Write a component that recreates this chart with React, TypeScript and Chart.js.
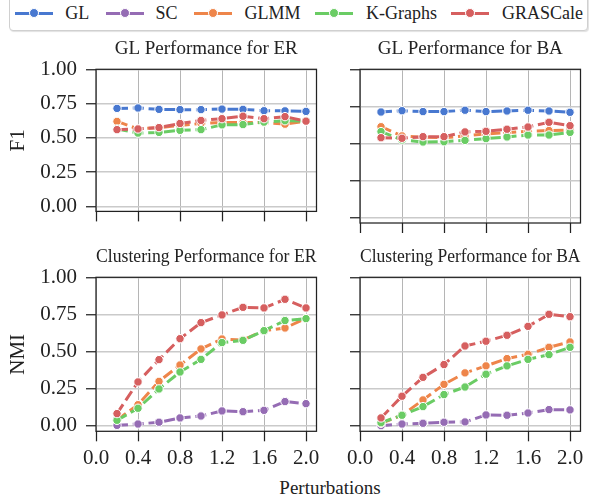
import React, { useEffect, useRef } from "react";
import { Chart, registerables } from "chart.js";

Chart.register(...registerables);
Chart.defaults.font.family = "'Liberation Serif', 'Times New Roman', Times, serif";
Chart.defaults.color = "#222";

// ---------- data ----------
const X_VALUES = [0.2, 0.4, 0.6, 0.8, 1.0, 1.2, 1.4, 1.6, 1.8, 2.0];
const X_TICKS = [0, 0.4, 0.8, 1.2, 1.6, 2.0];
const Y_TICKS = [0, 0.25, 0.5, 0.75, 1.0];

const METHODS = ["GL", "SC", "GLMM", "K-Graphs", "GRASCale"];
const COLORS = ["#4878d0", "#956cb4", "#ee854a", "#6acc64", "#d65f5f"];

// F1 – ER
const F1_ER_GL = [0.715, 0.718, 0.708, 0.706, 0.706, 0.71, 0.708, 0.698, 0.697, 0.693];
const F1_ER_GLMM = [0.62, 0.565, 0.575, 0.59, 0.605, 0.612, 0.612, 0.612, 0.6, 0.622];
const F1_ER_KG = [0.565, 0.535, 0.54, 0.555, 0.56, 0.595, 0.597, 0.615, 0.625, 0.622];
const F1_ER_GRAS = [0.56, 0.565, 0.575, 0.605, 0.627, 0.64, 0.658, 0.64, 0.655, 0.622];

// F1 – BA
const F1_BA_GL = [0.712, 0.721, 0.715, 0.715, 0.724, 0.715, 0.719, 0.724, 0.719, 0.71];
const F1_BA_GLMM = [0.613, 0.551, 0.542, 0.539, 0.551, 0.564, 0.573, 0.582, 0.587, 0.59];
const F1_BA_KG = [0.58, 0.524, 0.51, 0.512, 0.521, 0.533, 0.544, 0.557, 0.557, 0.575];
const F1_BA_GRAS = [0.539, 0.535, 0.546, 0.546, 0.578, 0.582, 0.596, 0.611, 0.643, 0.62];

// NMI – ER
const NMI_ER_SC = [0.004, 0.013, 0.025, 0.054, 0.067, 0.101, 0.096, 0.105, 0.164, 0.15];
const NMI_ER_GLMM = [0.04, 0.143, 0.3, 0.41, 0.518, 0.585, 0.578, 0.641, 0.659, 0.724];
const NMI_ER_KG = [0.038, 0.119, 0.249, 0.363, 0.448, 0.561, 0.576, 0.641, 0.709, 0.722];
const NMI_ER_GRAS = [0.083, 0.296, 0.446, 0.587, 0.695, 0.747, 0.798, 0.794, 0.852, 0.794];

// NMI – BA
const NMI_BA_SC = [0.002, 0.013, 0.018, 0.025, 0.027, 0.074, 0.072, 0.087, 0.11, 0.108];
const NMI_BA_GLMM = [0.018, 0.072, 0.175, 0.28, 0.357, 0.404, 0.453, 0.482, 0.529, 0.565];
const NMI_BA_KG = [0.022, 0.072, 0.13, 0.211, 0.262, 0.348, 0.404, 0.448, 0.48, 0.529];
const NMI_BA_GRAS = [0.054, 0.2, 0.327, 0.413, 0.538, 0.57, 0.61, 0.67, 0.751, 0.735];

// ---------- layout ----------
type Rect = { left: number; top: number; width: number; height: number };
type Area = { left: number; top: number; right: number; bottom: number };
type Panel = {
  key: string;
  title: string;
  yLabel: string | null;
  showX: boolean;
  showY: boolean;
  series: (number[] | null)[];
  rect: Rect;
  area: Area;
  xAxisH: number;
};

const TEXT = "#222";
const FONT = "'Liberation Serif', 'Times New Roman', Times, serif";
const TITLE_SIZE = 19;
const TICK_SIZE = 21;
const YLABEL_SIZE = 21;

const PANELS: Panel[] = [
  {
    key: "tl",
    title: "GL Performance for ER",
    yLabel: "F1",
    showX: false,
    showY: true,
    series: [F1_ER_GL, null, F1_ER_GLMM, F1_ER_KG, F1_ER_GRAS],
    rect: { left: 0, top: 38, width: 328, height: 195 },
    area: { left: 96, top: 69.3, right: 316.5, bottom: 223 },
    xAxisH: 10,
  },
  {
    key: "tr",
    title: "GL Performance for BA",
    yLabel: null,
    showX: false,
    showY: false,
    series: [F1_BA_GL, null, F1_BA_GLMM, F1_BA_KG, F1_BA_GRAS],
    rect: { left: 330, top: 38, width: 259, height: 195 },
    area: { left: 360, top: 69.3, right: 580.5, bottom: 223 },
    xAxisH: 10,
  },
  {
    key: "bl",
    title: "Clustering Performance for ER",
    yLabel: "NMI",
    showX: true,
    showY: true,
    series: [null, NMI_ER_SC, NMI_ER_GLMM, NMI_ER_KG, NMI_ER_GRAS],
    rect: { left: 0, top: 246, width: 328, height: 230 },
    area: { left: 96, top: 277.3, right: 316.5, bottom: 431.3 },
    xAxisH: 43,
  },
  {
    key: "br",
    title: "Clustering Performance for BA",
    yLabel: null,
    showX: true,
    showY: false,
    series: [null, NMI_BA_SC, NMI_BA_GLMM, NMI_BA_KG, NMI_BA_GRAS],
    rect: { left: 330, top: 246, width: 259, height: 230 },
    area: { left: 360, top: 277.3, right: 580.5, bottom: 431.3 },
    xAxisH: 43,
  },
];

const framePlugin = {
  id: "frame",
  afterDraw(chart: any) {
    const { ctx, chartArea } = chart;
    const { left, top, right, bottom } = chartArea;
    ctx.save();
    ctx.strokeStyle = "#222";
    ctx.lineWidth = 1.25;
    ctx.strokeRect(left, top, right - left, bottom - top);
    ctx.restore();
  },
};

function PanelChart({ p }: { p: Panel }) {
  const ref = useRef<HTMLCanvasElement>(null);
  useEffect(() => {
    const { rect, area } = p;
    const yW = area.left - rect.left;
    const titleBlock = area.top - rect.top;
    const padRight = rect.left + rect.width - area.right;
    const padBottom = rect.top + rect.height - area.bottom - p.xAxisH;
    const titleLH = TITLE_SIZE * 1.2;

    const datasets: any[] = [];
    METHODS.forEach((m, i) => {
      const arr = p.series[i];
      if (!arr) return;
      datasets.push({
        label: m,
        data: X_VALUES.map((x, j) => ({ x, y: arr[j] })),
        borderColor: COLORS[i],
        backgroundColor: COLORS[i],
        borderWidth: 3,
        borderDash: [11, 4.8],
        pointRadius: 4.2,
        pointBorderWidth: 1,
        pointBorderColor: "#ffffff",
        pointBackgroundColor: COLORS[i],
        tension: 0,
        order: METHODS.length - 1 - i,
      });
    });

    const chart = new Chart(ref.current!, {
      type: "line",
      data: { datasets },
      options: {
        animation: false,
        responsive: false,
        maintainAspectRatio: false,
        events: [],
        layout: { padding: { left: 0, top: 0, right: padRight, bottom: padBottom } },
        plugins: {
          legend: { display: false },
          tooltip: { enabled: false },
          title: {
            display: true,
            text: p.title,
            fullSize: false,
            color: TEXT,
            font: { size: TITLE_SIZE, weight: "normal", lineHeight: 1.2 },
            padding: { top: 0, bottom: titleBlock - titleLH },
          },
        },
        scales: {
          x: {
            type: "linear",
            min: 0,
            max: 2.1,
            afterBuildTicks: (s: any) => {
              s.ticks = X_TICKS.map((v) => ({ value: v }));
            },
            afterFit: (s: any) => {
              s.height = p.xAxisH;
            },
            ticks: {
              display: p.showX,
              callback: (v: any) => Number(v).toFixed(1),
              font: { size: TICK_SIZE },
              color: TEXT,
              padding: 5,
              maxRotation: 0,
              minRotation: 0,
              autoSkip: false,
            },
            grid: {
              color: "#b5b5b5",
              lineWidth: 1,
              drawTicks: true,
              tickLength: 10,
              tickColor: "#222",
              tickWidth: 1.25,
            },
            border: { display: false },
          },
          y: {
            type: "linear",
            min: -0.036,
            max: 1.0,
            afterBuildTicks: (s: any) => {
              s.ticks = Y_TICKS.map((v) => ({ value: v }));
            },
            afterFit: (s: any) => {
              s.width = yW;
            },
            ticks: {
              display: p.showY,
              callback: (v: any) => Number(v).toFixed(2),
              font: { size: TICK_SIZE },
              color: TEXT,
              padding: 9,
              autoSkip: false,
            },
            grid: {
              color: "#cacaca",
              lineWidth: 1.5,
              drawTicks: true,
              tickLength: 10,
              tickColor: "#222",
              tickWidth: 1.25,
            },
            border: { display: false },
            title: {
              display: !!p.yLabel,
              text: p.yLabel || "",
              color: TEXT,
              font: { size: YLABEL_SIZE, lineHeight: 1.2 },
              padding: { top: 6, bottom: 0 },
            },
          },
        },
      } as any,
      plugins: [framePlugin],
    });
    return () => chart.destroy();
  }, [p]);
  return (
    <canvas
      ref={ref}
      width={p.rect.width}
      height={p.rect.height}
      style={{
        position: "absolute",
        left: p.rect.left,
        top: p.rect.top,
        width: p.rect.width,
        height: p.rect.height,
      }}
    />
  );
}

const LEGEND_LINE_X = [15.8, 106.4, 194.4, 315, 451];
const LEGEND_TEXT_X = [65.8, 156, 245, 366.5, 502.6];

function Legend() {
  const boxLeft = 9;
  const boxTop = -4;
  const border = 1.5;
  const cy = 13.9 - boxTop - border; // vertical centre of items inside the box
  return (
    <div
      style={{
        position: "absolute",
        left: boxLeft,
        top: boxTop,
        width: 579,
        height: 35,
        border: `${border}px solid #d0d0d0`,
        borderRadius: 4,
        background: "#fff",
        boxShadow: "1px 1px 1px rgba(0,0,0,0.12)",
        boxSizing: "border-box",
      }}
    >
      {METHODS.map((m, i) => {
        const x = LEGEND_LINE_X[i] - boxLeft - border;
        const tx = LEGEND_TEXT_X[i] - boxLeft - border;
        return (
          <React.Fragment key={m}>
            <div
              style={{
                position: "absolute",
                left: x,
                top: cy - 1.5,
                width: 38,
                height: 3,
                background: COLORS[i],
              }}
            />
            <div
              style={{
                position: "absolute",
                left: x + 19 - 5,
                top: cy - 5,
                width: 8,
                height: 8,
                borderRadius: "50%",
                background: COLORS[i],
                border: "1px solid #fff",
              }}
            />
            <div
              style={{
                position: "absolute",
                left: tx,
                top: cy - 9.5 + 0.3,
                fontFamily: FONT,
                fontSize: 18,
                lineHeight: "19px",
                color: TEXT,
                whiteSpace: "nowrap",
              }}
            >
              {m}
            </div>
          </React.Fragment>
        );
      })}
    </div>
  );
}

export default function App() {
  return (
    <div
      style={{
        position: "absolute",
        left: 0,
        top: 0,
        width: 589,
        height: 502,
        background: "#fff",
        overflow: "hidden",
      }}
    >
      {PANELS.map((p) => (
        <PanelChart key={p.key} p={p} />
      ))}
      <Legend />
      <div
        style={{
          position: "absolute",
          left: 330,
          top: 478,
          transform: "translateX(-50%)",
          fontFamily: FONT,
          fontSize: 19,
          lineHeight: "19px",
          color: TEXT,
          whiteSpace: "nowrap",
        }}
      >
        Perturbations
      </div>
    </div>
  );
}
